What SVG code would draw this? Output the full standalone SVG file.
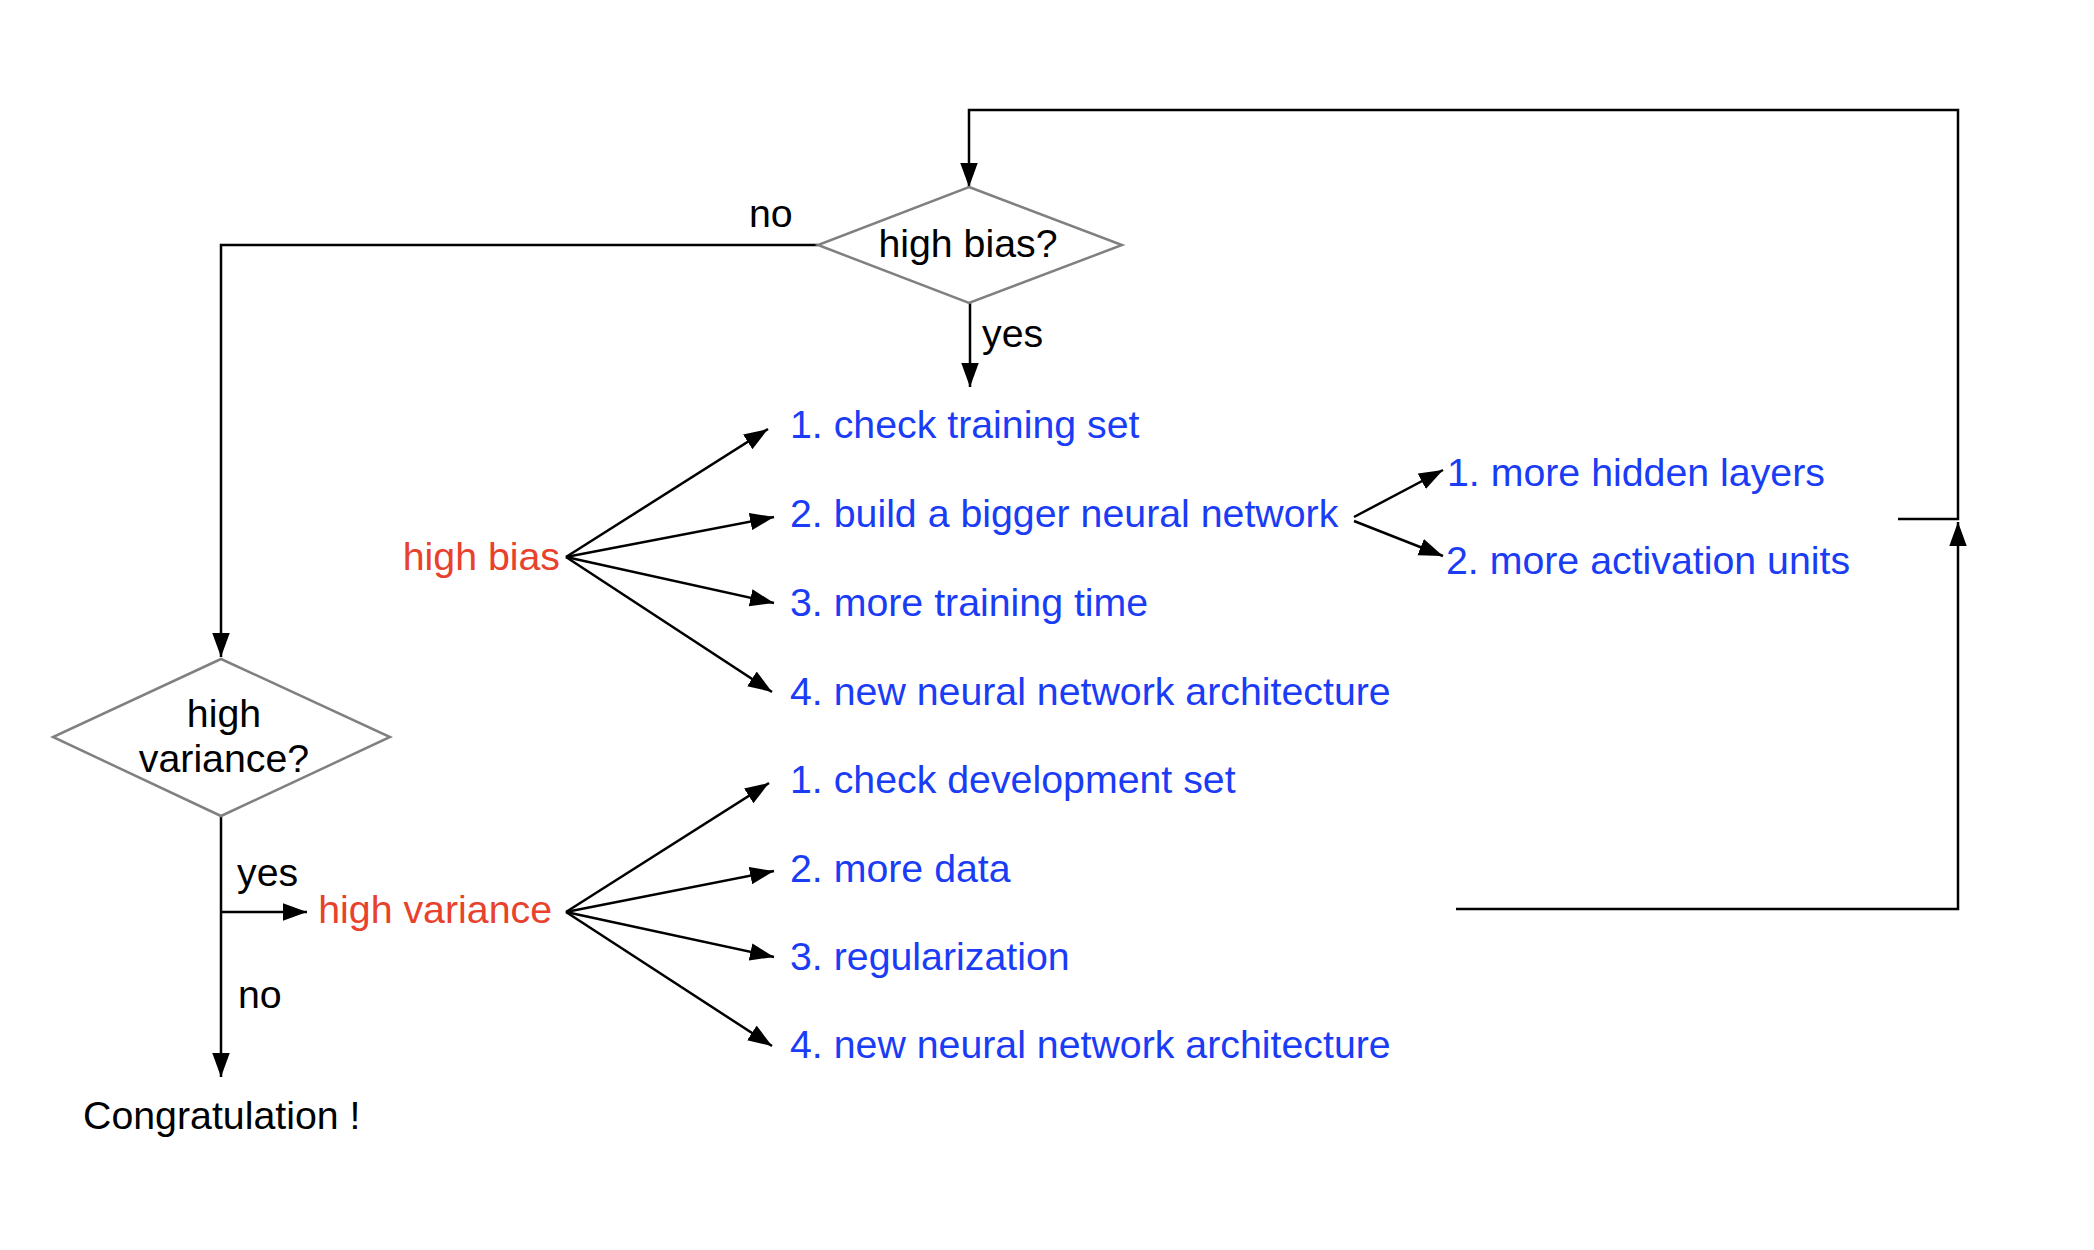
<svg xmlns="http://www.w3.org/2000/svg" width="2094" height="1250" viewBox="0 0 2094 1250">
<style>
text{font-family:"Liberation Sans",Arial,Helvetica,sans-serif;font-size:39.3px;}
.k{fill:#000;}
.b{fill:#1a3cf5;}
.r{fill:#e8412c;}
.c{text-anchor:middle;}
.e{text-anchor:end;}
.dia{fill:#fff;stroke:#808080;stroke-width:2.5;}
.ln{fill:none;stroke:#000;stroke-width:2.5;}
.ar{fill:none;stroke:#000;stroke-width:2.5;marker-end:url(#ah);}
</style>
<defs>
<marker id="ah" markerUnits="userSpaceOnUse" markerWidth="24" markerHeight="18" refX="22" refY="8" orient="auto" viewBox="0 0 22 16">
<path d="M0,0 L22,8 L0,16 z" fill="#000"/>
</marker>
</defs>
<rect width="2094" height="1250" fill="#fff"/>
<g id="connectors">
<path class="ar" d="M1898,519 H1958 V110 H969 V187"/>
<path class="ar" d="M1456,909 H1958 V522"/>
<path class="ar" d="M818,245 H221 V657"/>
<path class="ar" d="M970,303 V387"/>
<path class="ar" d="M221,816 V1077"/>
<path class="ar" d="M221,912 H307"/>
<path class="ar" d="M566,557 L768,429"/>
<path class="ar" d="M566,557 L774,517"/>
<path class="ar" d="M566,557 L774,603"/>
<path class="ar" d="M566,557 L772,692"/>
<path class="ar" d="M566,912 L769,783"/>
<path class="ar" d="M566,912 L774,871"/>
<path class="ar" d="M566,912 L774,957"/>
<path class="ar" d="M566,912 L772,1046"/>
<path class="ar" d="M1354,517 L1443,470"/>
<path class="ar" d="M1354,521 L1443,556"/>
</g>
<g id="labels">
<text class="k" x="749" y="227">no</text>
<text class="k" x="982" y="347">yes</text>
<text class="k" x="237" y="886">yes</text>
<text class="k" x="238" y="1008">no</text>
</g>
<g id="node-high-bias-q">
<polygon class="dia" points="969,187 1122,245 969,303 818,245"/>
<text class="k c" x="968" y="257">high bias?</text>
</g>
<g id="node-high-variance-q">
<polygon class="dia" points="221,659 390,737 221,816 53,737"/>
<text class="k c" x="224" y="727">high</text>
<text class="k c" x="224" y="772">variance?</text>
</g>
<g id="node-high-bias">
<text class="r e" x="560" y="570">high bias</text>
</g>
<g id="node-high-variance">
<text class="r e" x="552" y="923">high variance</text>
</g>
<g id="node-congrats">
<text class="k" x="83" y="1129">Congratulation !</text>
</g>
<g id="node-bias-1"><text class="b" x="790" y="438">1. check training set</text></g>
<g id="node-bias-2"><text class="b" x="790" y="527">2. build a bigger neural network</text></g>
<g id="node-bias-3"><text class="b" x="790" y="616">3. more training time</text></g>
<g id="node-bias-4"><text class="b" x="790" y="705">4. new neural network architecture</text></g>
<g id="node-sub-1"><text class="b" x="1447" y="486">1. more hidden layers</text></g>
<g id="node-sub-2"><text class="b" x="1446" y="574">2. more activation units</text></g>
<g id="node-var-1"><text class="b" x="790" y="793">1. check development set</text></g>
<g id="node-var-2"><text class="b" x="790" y="882">2. more data</text></g>
<g id="node-var-3"><text class="b" x="790" y="970">3. regularization</text></g>
<g id="node-var-4"><text class="b" x="790" y="1058">4. new neural network architecture</text></g>
</svg>
